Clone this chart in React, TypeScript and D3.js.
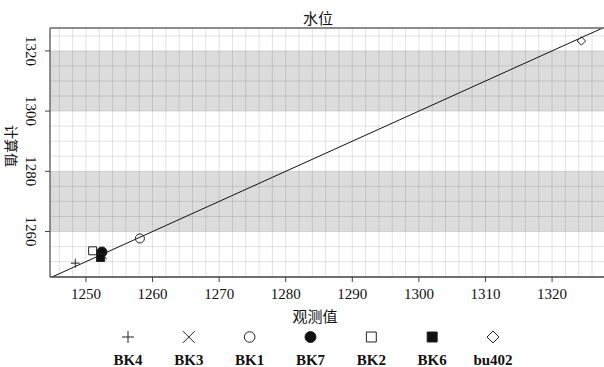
import React from "react";
import * as d3 from "d3";

// Station names, observed and computed water levels
const stations = ["BK4", "BK3", "BK1", "BK7", "BK2", "BK6", "bu402"];
const observed = [1248.4, 1252.6, 1258.1, 1252.4, 1251.0, 1252.2, 1324.4];
const computed = [1249.5, 1252.0, 1257.7, 1253.2, 1253.6, 1251.4, 1323.3];
const xTicks = [1250, 1260, 1270, 1280, 1290, 1300, 1310, 1320];
const yTicks = [1260, 1280, 1300, 1320];
const bands = [
  [1260, 1280],
  [1300, 1320],
];

const W = 604;
const H = 367;
const left = 50;
const right = 604;
const top = 28;
const bottom = 277;

const x = d3.scaleLinear().domain([1244.6, 1327.8]).range([left, right]);
const y = d3.scaleLinear().domain([1244.9, 1327.6]).range([bottom, top]);

const serif = "'Liberation Serif', 'Times New Roman', serif";
const cjk = "'Noto Sans CJK SC', sans-serif";

type Sym = { type: d3.SymbolType; fill: boolean; plot: number; legend: number };
const symbols: Sym[] = [
  { type: d3.symbolPlus, fill: false, plot: 28, legend: 48 },
  { type: d3.symbolTimes, fill: false, plot: 34, legend: 92 },
  { type: d3.symbolCircle, fill: false, plot: 64, legend: 88 },
  { type: d3.symbolCircle, fill: true, plot: 80, legend: 95 },
  { type: d3.symbolSquare2, fill: false, plot: 80, legend: 125 },
  { type: d3.symbolSquare, fill: true, plot: 66, legend: 100 },
  { type: d3.symbolDiamond2, fill: false, plot: 45, legend: 92 },
];

function Marker({ s, size, cx, cy }: { s: Sym; size: number; cx: number; cy: number }) {
  const d = d3.symbol().type(s.type).size(size)() || "";
  return (
    <path
      d={d}
      transform={`translate(${cx},${cy})`}
      fill={s.fill ? "#111" : "none"}
      stroke="#222"
      strokeWidth={1}
    />
  );
}

export default function App() {
  const vGrid = d3.range(1246, 1328, 2);
  const hGrid = d3.range(1245, 1328, 5);
  const lo = Math.max(x.domain()[0], y.domain()[0]);
  const hi = Math.min(x.domain()[1], y.domain()[1]);
  const legendX = d3.scalePoint<string>().domain(stations).range([128, 493]);

  return (
    <svg
      width={W}
      height={H}
      style={{ position: "absolute", left: 0, top: 0, background: "#fff" }}
    >
      <defs>
        <clipPath id="panel">
          <rect x={left} y={top} width={right - left} height={bottom - top} />
        </clipPath>
      </defs>

      {/* shaded bands */}
      {bands.map(([a, b], i) => (
        <rect
          key={i}
          x={left}
          y={y(b)}
          width={right - left}
          height={y(a) - y(b)}
          fill="#dcdcdc"
        />
      ))}

      {/* grid */}
      {vGrid.map((v) => (
        <line key={"v" + v} x1={x(v)} x2={x(v)} y1={top} y2={bottom} stroke="rgba(0,0,0,0.11)" />
      ))}
      {hGrid.map((v) => (
        <line key={"h" + v} x1={left} x2={right} y1={y(v)} y2={y(v)} stroke="rgba(0,0,0,0.11)" />
      ))}

      {/* 1:1 line */}
      <line
        x1={x(lo)}
        y1={y(lo)}
        x2={x(hi)}
        y2={y(hi)}
        stroke="#111"
        strokeWidth={1}
        clipPath="url(#panel)"
      />

      {/* points */}
      {stations.map((st, i) => (
        <Marker key={st} s={symbols[i]} size={symbols[i].plot} cx={x(observed[i])} cy={y(computed[i])} />
      ))}

      {/* frame */}
      <line x1={left} x2={right} y1={top} y2={top} stroke="#666" strokeWidth={1.3} />
      <line x1={left} x2={left} y1={top} y2={bottom} stroke="#555" strokeWidth={1.3} />
      <line x1={left} x2={right} y1={bottom} y2={bottom} stroke="#444" strokeWidth={1.3} />

      {/* x axis */}
      {xTicks.map((t) => (
        <g key={t}>
          <line x1={x(t)} x2={x(t)} y1={bottom} y2={bottom + 5} stroke="#444" />
          <text x={x(t)} y={299} textAnchor="middle" fontFamily={serif} fontSize={15} fill="#111">
            {t}
          </text>
        </g>
      ))}
      <text x={315} y={322} textAnchor="middle" fontFamily={cjk} fontSize={15} fill="#111">
        观测值
      </text>

      {/* y axis */}
      {yTicks.map((t) => (
        <g key={t}>
          <line x1={left - 5} x2={left} y1={y(t)} y2={y(t)} stroke="#444" />
          <text
            transform={`translate(31,${y(t)}) rotate(90)`}
            textAnchor="middle"
            dominantBaseline="central"
            fontFamily={serif}
            fontSize={15}
            fill="#111"
          >
            {t}
          </text>
        </g>
      ))}
      <text
        transform={`translate(12,146) rotate(90)`}
        textAnchor="middle"
        dominantBaseline="central"
        fontFamily={cjk}
        fontSize={14}
        fill="#111"
      >
        计算值
      </text>

      {/* title */}
      <text x={318} y={24} textAnchor="middle" fontFamily={cjk} fontSize={15} fill="#111">
        水位
      </text>

      {/* legend */}
      {stations.map((st, i) => (
        <g key={"lg" + st}>
          <Marker s={symbols[i]} size={symbols[i].legend} cx={legendX(st)!} cy={337} />
          <text
            x={legendX(st)!}
            y={365}
            textAnchor="middle"
            fontFamily={serif}
            fontWeight="bold"
            fontSize={15}
            fill="#111"
          >
            {st}
          </text>
        </g>
      ))}
    </svg>
  );
}
